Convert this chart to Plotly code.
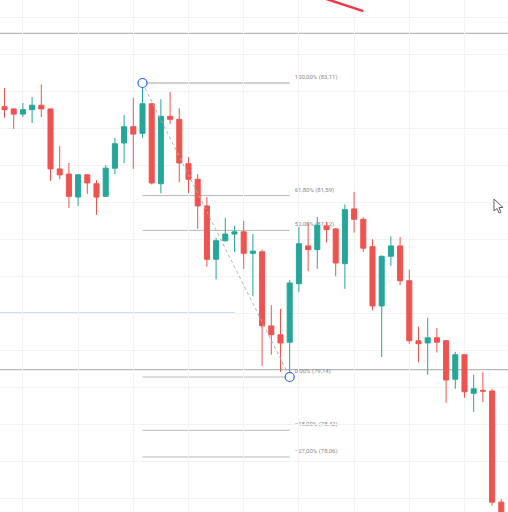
import plotly.graph_objects as go

# ---- data ----
candle_index = list(range(55))
opens = [82.79, 82.76, 82.69, 82.75, 82.81, 82.76, 81.95, 81.88, 81.57, 81.87,
         81.75, 81.58, 81.96, 82.30, 82.52, 82.43, 82.83, 81.75, 82.66, 82.62,
         82.02, 81.81, 81.45, 80.73, 80.98, 81.07, 81.10, 80.81, 80.83, 79.83,
         79.71, 79.61, 80.40, 80.91, 80.86, 81.18, 81.14, 80.67, 81.41, 81.27,
         80.90, 80.10, 80.77, 80.91, 80.44, 79.63, 79.60, 79.67, 79.63, 79.11,
         79.44, 78.92, 78.96, 78.95, 77.45]
highs = [83.04, 82.77, 82.84, 82.92, 83.09, 82.77, 82.26, 82.03, 81.88, 81.88,
         81.80, 82.00, 82.37, 82.68, 82.91, 83.11, 82.84, 82.89, 82.99, 82.77,
         82.11, 81.88, 81.57, 81.02, 81.29, 81.18, 81.25, 81.07, 80.86, 80.11,
         80.06, 80.45, 81.17, 81.22, 81.30, 81.23, 81.15, 81.47, 81.64, 81.30,
         81.00, 80.78, 81.04, 81.03, 80.59, 79.82, 79.94, 79.80, 79.64, 79.48,
         79.45, 79.17, 79.21, 78.98, 77.49]
lows = [82.64, 82.49, 82.65, 82.57, 82.65, 81.79, 81.81, 81.42, 81.45, 81.61,
        81.33, 81.57, 81.88, 82.03, 81.95, 82.37, 81.74, 81.62, 82.56, 81.77,
        81.62, 81.14, 80.63, 80.46, 80.97, 80.83, 80.60, 80.23, 79.29, 79.44,
        79.21, 79.14, 80.29, 80.57, 80.60, 80.96, 80.50, 80.33, 81.09, 80.83,
        80.04, 79.41, 80.64, 80.38, 79.59, 79.34, 79.17, 79.47, 78.79, 78.98,
        78.86, 78.67, 78.80, 77.40, 77.00]
closes = [82.75, 82.69, 82.75, 82.81, 82.76, 81.95, 81.87, 81.58, 81.87, 81.76,
          81.57, 81.96, 82.29, 82.52, 82.42, 82.83, 81.76, 82.66, 82.62, 82.03,
          81.81, 81.45, 80.73, 80.98, 81.07, 81.10, 80.81, 80.84, 79.83, 79.71,
          79.60, 80.41, 80.94, 80.86, 81.19, 81.13, 80.68, 81.40, 81.27, 80.88,
          80.10, 80.77, 80.91, 80.44, 79.63, 79.59, 79.67, 79.61, 79.10, 79.44,
          78.94, 78.98, 78.95, 77.45, 77.10]

# Fibonacci tool (anchored from candle 15 high to candle 31 low)
fib_start_index = 15
fib_end_index = 31
fib_levels = [83.11, 81.59, 81.12, 79.14, 78.42, 78.06]
fib_labels = ["100,00% (83,11)", "61,80% (81,59)", "50,00% (81,12)",
              "0,00% (79,14)", "\u221218,00% (78,42)", "\u221227,00% (78,06)"]
label_gap = 0.55  # in candle units, gap between fib line end and its label

# other drawings
horizontal_lines = [83.78, 79.24]
blue_line_price = 80.00
blue_line_end_index = 25.05
trend_x = [34.6, 39.0]
trend_y = [84.26, 84.08]

GREEN = "#26a69a"
RED = "#ef5350"

fig = go.Figure()
fig.add_trace(go.Candlestick(
    x=candle_index, open=opens, high=highs, low=lows, close=closes,
    increasing=dict(line=dict(color=GREEN, width=1), fillcolor=GREEN),
    decreasing=dict(line=dict(color=RED, width=1), fillcolor=RED),
    whiskerwidth=0, showlegend=False, hoverinfo="skip",
))

# dotted diagonal of the fib tool
fig.add_trace(go.Scatter(
    x=[fib_start_index, fib_end_index], y=[fib_levels[0], fib_levels[3]],
    mode="lines", line=dict(color="#b0b0b0", width=1, dash="dot"),
    showlegend=False, hoverinfo="skip"))
# anchor circles
fig.add_trace(go.Scatter(
    x=[fib_start_index, fib_end_index], y=[fib_levels[0], fib_levels[3]],
    mode="markers",
    marker=dict(symbol="circle", size=9, color="white",
                line=dict(color="#2962ff", width=1.2)),
    showlegend=False, hoverinfo="skip"))

shapes = []
for lvl, lab in zip(fib_levels, fib_labels):
    shapes.append(dict(
        type="line", xref="x", yref="y", layer="below",
        x0=fib_start_index, x1=fib_end_index, y0=lvl, y1=lvl,
        line=dict(color="#d0d0d0" if lvl == fib_levels[0] else "#b8b8b8",
                  width=2 if lvl == fib_levels[0] else 1),
    ))
    # invisible carrier for the label (kept below the candles)
    shapes.append(dict(
        type="line", xref="x", yref="y", layer="below",
        x0=fib_end_index + label_gap, x1=fib_end_index + 4, y0=lvl, y1=lvl,
        line=dict(color="rgba(0,0,0,0)", width=0),
        label=dict(text=lab, textposition="start", xanchor="left",
                   yanchor="bottom", padding=2,
                   font=dict(size=6, color="#8a8a8a", family="Roboto")),
    ))
for h in horizontal_lines:
    shapes.append(dict(type="line", xref="paper", yref="y", layer="below",
                       x0=0, x1=1, y0=h, y1=h,
                       line=dict(color="#b9b9b9", width=1.2)))
shapes.append(dict(type="line", xref="x", yref="y", layer="below",
                   x0=-1, x1=blue_line_end_index, y0=blue_line_price,
                   y1=blue_line_price,
                   line=dict(color="rgba(41,98,255,0.45)", width=1.5)))
shapes.append(dict(type="line", xref="x", yref="y",
                   x0=trend_x[0], x1=trend_x[1], y0=trend_y[0], y1=trend_y[1],
                   line=dict(color="#f23645", width=2.5)))

# mouse cursor decoration (paper coordinates)
W, H = 508, 512
cursor_px = [(494, 199), (494, 211), (497, 208.5), (499, 213), (501, 212),
             (499, 207.5), (503, 207.5)]
path = "M " + " L ".join(f"{x / W:.5f},{1 - y / H:.5f}" for x, y in cursor_px) + " Z"
shapes.append(dict(type="path", xref="paper", yref="paper", path=path,
                   fillcolor="white", line=dict(color="#606060", width=1)))

fig.update_layout(
    width=W, height=H,
    margin=dict(l=0, r=0, t=0, b=0),
    paper_bgcolor="white", plot_bgcolor="white",
    shapes=shapes, boxgap=0.22,
    xaxis=dict(range=[-0.489, 54.73], rangeslider=dict(visible=False),
               showticklabels=False, showgrid=True, gridcolor="#f3f3f3",
               tick0=2, dtick=6, zeroline=False, showline=False, ticks=""),
    yaxis=dict(range=[77.317, 84.231], showticklabels=False, showgrid=True,
               gridcolor="#f3f3f3", tick0=0, dtick=0.5, zeroline=False,
               showline=False, ticks=""),
    hovermode=False,
)

fig.write_html(
    "out.html",
    config={"displayModeBar": False, "staticPlot": True},
    post_script="document.body.style.margin='0';document.body.style.overflow='hidden';",
)
